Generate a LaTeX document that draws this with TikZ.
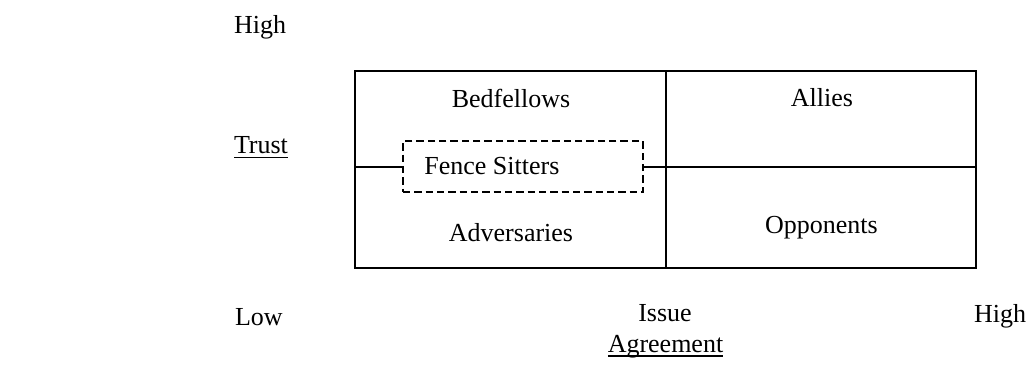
\documentclass[tikz,border=0pt]{standalone}
\usepackage{fontspec}
\setmainfont{Liberation Serif}
\usepackage{tikz}
\usetikzlibrary{positioning}
\newcommand{\axisul}[1]{\setbox0\hbox{#1}\rlap{\rule[-3.6pt]{\wd0}{1.2pt}}\box0}

\begin{document}
\begin{tikzpicture}[x=0.75pt, y=-0.75pt, line width=1.5pt,
    every node/.style={font=\fontsize{19.5}{23}\selectfont},
    lbl/.style={anchor=base, inner sep=0pt},
    axislbl/.style={anchor=base west, inner sep=0pt},
    fencebox/.style={draw, dash pattern=on 5.5pt off 3pt, minimum width=180pt,
      minimum height=38pt, inner xsep=16pt, text width=148pt, align=flush left}]
    \useasboundingbox (0,0) rectangle (1026,386);
    \coordinate (nw) at (355,71);
    \coordinate (se) at (976,268);
    \coordinate (midtop) at (666,71);
    \coordinate (midbot) at (666,268);
    \coordinate (leftmid) at (355,166.5);
    \coordinate (rightmid) at (976,166.5);
    \draw (nw) rectangle (se);
    \draw (midtop) -- (midbot);
    \node [fencebox] at (523,166.5) (fence) {Fence Sitters};
    \draw (leftmid) -- (fence.west);
    \draw (fence.east) -- (rightmid);
    \node [lbl] at (511,107) (bedfellows) {Bedfellows};
    \node [lbl] at (511,241) (adversaries) {Adversaries};
    \node [lbl] at (822,106.7) (allies) {Allies};
    \node [lbl] at (821.5,233) (opponents) {Opponents};
    \node [axislbl] at (233,33.3) (trusthigh) {High};
    \node [axislbl] at (233,153.3) (trust) {\axisul{Trust}};
    \node [axislbl] at (234,325) (trustlow) {Low};
    \node [lbl] at (665,321.5) (issue) {Issue};
    \node [lbl] at (665.5,352) (agreement) {\axisul{Agreement}};
    \node [axislbl] at (973,322) (agreehigh) {High};
  \end{tikzpicture}
\end{document}
